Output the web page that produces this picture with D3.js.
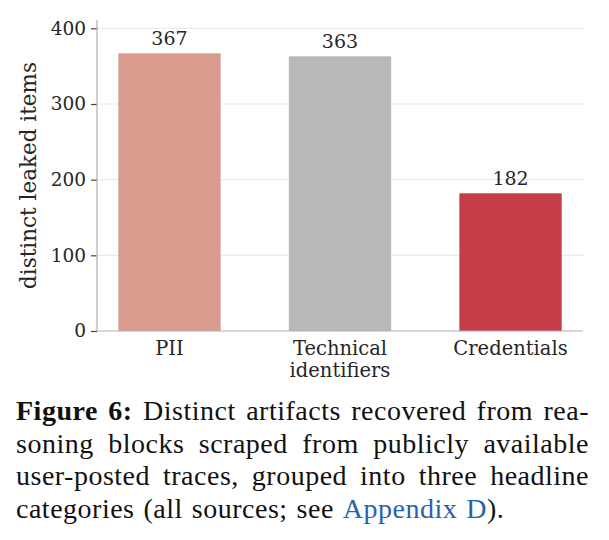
<!DOCTYPE html>
<html>
<head>
<meta charset="utf-8">
<script src="https://cdn.jsdelivr.net/npm/d3@7"></script>
<style>
  body { margin: 0; background: #fff; }
</style>
</head>
<body>
<div id="chart"></div>
<script>
// data
const categories = ["PII", "Technical\nidentifiers", "Credentials"];
const counts = [367, 363, 182];
const barColors = ["#da9b8f", "#b9b9b9", "#c43d48"];
const yTicks = [0, 100, 200, 300, 400];

const captionLines = [
  [{ t: "Figure 6:", bold: true }, { t: "Distinct artifacts recovered from rea-" }],
  [{ t: "soning blocks scraped from publicly available" }],
  [{ t: "user-posted traces, grouped into three headline" }],
  [{ t: "categories (all sources; see" }, { t: "Appendix D", link: true }, { t: ")." , glue: true }]
];

const width = 609, height = 540;
const margin = { top: 20, right: 26, bottom: 209, left: 97 };

const svg = d3.select("#chart")
  .append("svg")
  .attr("width", width)
  .attr("height", height);

const x = d3.scaleBand()
  .domain(categories)
  .range([margin.left, width - margin.right])
  .paddingInner(0.4)
  .paddingOuter(0.125);

const y = d3.scaleLinear()
  .domain([0, 411])
  .range([height - margin.bottom, margin.top]);

const chartFont = "'DejaVu Serif', serif";

// grid lines
svg.append("g")
  .selectAll("line")
  .data(yTicks.filter(d => d > 0))
  .enter()
  .append("line")
  .attr("x1", margin.left)
  .attr("x2", width - margin.right + 2)
  .attr("y1", d => y(d))
  .attr("y2", d => y(d))
  .attr("stroke", "#ebebeb")
  .attr("stroke-width", 1.2);

// bars
svg.append("g")
  .selectAll("rect")
  .data(counts)
  .enter()
  .append("rect")
  .attr("x", (d, i) => x(categories[i]))
  .attr("y", d => y(d))
  .attr("width", x.bandwidth())
  .attr("height", d => y(0) - y(d))
  .attr("fill", (d, i) => barColors[i]);

// value labels
svg.append("g")
  .selectAll("text")
  .data(counts)
  .enter()
  .append("text")
  .attr("x", (d, i) => x(categories[i]) + x.bandwidth() / 2)
  .attr("y", d => y(d) - 8)
  .attr("text-anchor", "middle")
  .style("font-family", chartFont)
  .style("font-size", "19px")
  .attr("fill", "#262626")
  .text(d => d);

// y axis
const yAxis = d3.axisLeft(y).tickValues(yTicks).tickSize(6).tickPadding(5);
const gy = svg.append("g")
  .attr("transform", "translate(" + margin.left + ",0)")
  .call(yAxis);
gy.select(".domain").remove();
gy.append("line")
  .attr("x1", 0).attr("x2", 0)
  .attr("y1", y(0)).attr("y2", margin.top)
  .attr("stroke", "#b0b0b0").attr("stroke-width", 1.2);
gy.selectAll(".tick line").attr("stroke", "#444").attr("stroke-width", 1.2);
gy.selectAll(".tick text")
  .style("font-family", chartFont)
  .style("font-size", "18.5px")
  .attr("fill", "#262626");

// x axis
const gx = svg.append("g")
  .attr("transform", "translate(0," + y(0) + ")")
  .call(d3.axisBottom(x).tickSize(0).tickFormat(""));
gx.select(".domain").remove();
gx.append("line")
  .attr("x1", margin.left).attr("x2", width - margin.right)
  .attr("stroke", "#b0b0b0").attr("stroke-width", 1.2);
gx.selectAll(".tick").each(function (d) {
  const t = d3.select(this).append("text")
    .attr("text-anchor", "middle")
    .attr("fill", "#262626")
    .style("font-family", chartFont)
    .style("font-size", "19.5px");
  d.split("\n").forEach((line, k) => {
    t.append("tspan").attr("x", 0).attr("y", 24 + k * 22).text(line);
  });
});

// y label
svg.append("text")
  .attr("transform", "translate(36," + (y(0) + margin.top) / 2 + ") rotate(-90)")
  .attr("text-anchor", "middle")
  .style("font-family", chartFont)
  .style("font-size", "21.5px")
  .attr("fill", "#262626")
  .text("distinct leaked items");

// caption, justified line by line
const capLeft = 16, capRight = 589, capTop = 420, capStep = 32.5;
const capFont = "'Liberation Serif', 'Times New Roman', serif";
const cap = svg.append("g");

captionLines.forEach((segs, li) => {
  const words = [];
  segs.forEach(s => {
    s.t.split(" ").forEach((w, k) => {
      words.push({ w: w, bold: s.bold, link: s.link, glue: s.glue && k === 0 });
    });
  });
  const nodes = words.map(o => cap.append("text")
    .attr("y", capTop + li * capStep)
    .style("font-family", capFont)
    .style("font-size", "28px")
    .style("letter-spacing", "0.5px")
    .style("font-weight", o.bold ? "bold" : "normal")
    .attr("fill", o.link ? "#2962a9" : "#111")
    .text(o.w));
  const widths = nodes.map(n => n.node().getComputedTextLength());
  const total = d3.sum(widths);
  const gaps = words.filter((o, i) => i > 0 && !o.glue).length;
  const last = li === captionLines.length - 1;
  const gap = last ? 9 : (capRight - capLeft - total) / gaps;
  let cx = capLeft;
  nodes.forEach((n, i) => {
    if (i > 0 && !words[i].glue) cx += gap;
    n.attr("x", cx);
    cx += widths[i];
  });
});
</script>
</body>
</html>
